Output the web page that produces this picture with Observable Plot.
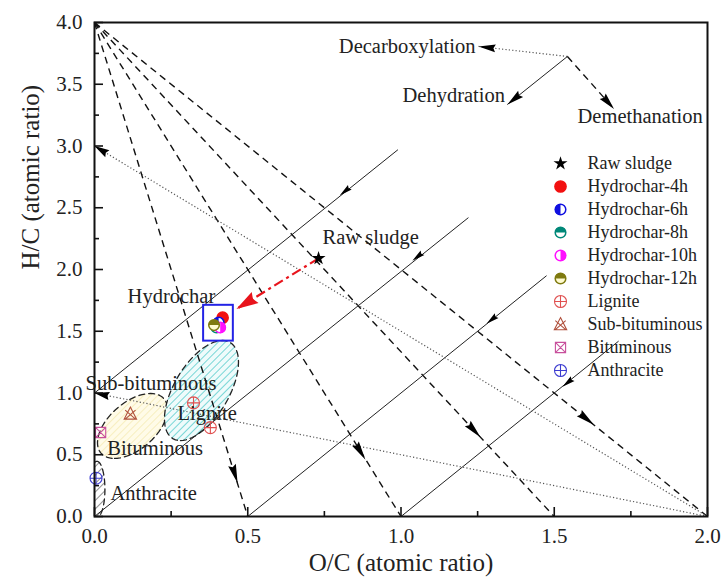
<!DOCTYPE html>
<html><head><meta charset="utf-8">
<script src="https://cdn.jsdelivr.net/npm/d3@7"></script>
<script src="https://cdn.jsdelivr.net/npm/@observablehq/plot@0.6"></script>
<style>
body{margin:0;background:#fff;}
#chart{position:relative;width:724px;height:583px;}
#chart svg{display:block;}
#legend{position:absolute;left:548px;top:147px;}
</style>
</head><body><div id="chart"><div id="legend"></div></div>
<script>
// ---------- data ----------
const xTicks = [0, 0.5, 1.0, 1.5, 2.0];
const xMinorTicks = [0.25, 0.75, 1.25, 1.75];
const yTicks = [0, 0.5, 1.0, 1.5, 2.0, 2.5, 3.0, 3.5, 4.0];
const yMinorTicks = [0.25, 0.75, 1.25, 1.75, 2.25, 2.75, 3.25, 3.75];

const seriesNames = ["Raw sludge","Hydrochar-4h","Hydrochar-6h","Hydrochar-8h","Hydrochar-10h","Hydrochar-12h","Lignite","Sub-bituminous","Bituminous","Anthracite"];
const pointSeries = ["Raw sludge","Hydrochar-4h","Hydrochar-6h","Hydrochar-8h","Hydrochar-10h","Hydrochar-12h","Lignite","Lignite","Sub-bituminous","Bituminous","Anthracite"];
const pointOC = [0.731, 0.418, 0.405, 0.398, 0.410, 0.390, 0.323, 0.378, 0.117, 0.020, 0.005];
const pointHC = [2.09, 1.61, 1.57, 1.53, 1.53, 1.55, 0.92, 0.72, 0.83, 0.68, 0.31];

// demethanation lines (dashed)
const demX1 = [0, 0, 0, 0], demY1 = [4, 4, 4, 4];
const demX2 = [0.5, 1.0, 1.5, 2.0], demY2 = [0, 0, 0, 0];
const demArrowOC = [0.467, 0.884, 1.26, 1.63], demArrowHC = [0.27, 0.46, 0.64, 0.74];
// dehydration lines (solid)
const dehX1 = [0, 0, 0.5, 1.0], dehY1 = [1, 0, 0, 0];
const dehX2 = [0.99, 1.22, 1.475, 1.71], dehY2 = [2.97, 2.42, 1.95, 1.42];
const dehArrowOC = [0.80, 1.037, 1.279, 1.527], dehArrowHC = [2.60, 2.07, 1.56, 1.05];
// decarboxylation lines (dotted)
const decX1 = [2, 2], decY1 = [0, 0];
const decX2 = [0, 0], decY2 = [3, 1];

// key (top right)
const keyVertex = [1.543, 3.725];
const keyNames = ["Decarboxylation", "Dehydration", "Demethanation"];
const keyTipOC = [1.253, 1.347, 1.695], keyTipHC = [3.806, 3.336, 3.30];
const keyLabelOC = [1.243, 1.005, 1.576], keyLabelHC = [3.806, 3.41, 3.24];

// red transformation arrow, box around hydrochars
const redArrowFrom = [0.731, 2.09], redArrowTo = [0.463, 1.68];
const boxOC = [0.356, 0.453], boxHC = [1.42, 1.71];

// region labels
const labelText = ["Raw sludge","Hydrochar","Sub-bituminous","Lignite","Bituminous","Anthracite"];
const labelOC = [0.744, 0.108, -0.029, 0.271, 0.042, 0.052];
const labelHC = [2.26, 1.78, 1.077, 0.834, 0.55, 0.186];

// coal regions (ellipses: centre, conjugate semi-axes in data units)
const regionNames = ["Sub-bituminous", "Lignite", "Anthracite"];
const regionCX = [0.124, 0.349, 0.008], regionCY = [0.733, 1.02, 0.22];
const regionUX = [-0.0587, -0.0685, 0], regionUY = [-0.263, -0.405, 0.227];
const regionVX = [0.098, 0.0995, 0.026], regionVY = [0, 0, 0];

// ---------- layout / styles ----------
const W = 724, H = 583, ML = 94, MR = 17, MT = 22, MB = 67;
const kx = (W - ML - MR) / 2, ky = (H - MT - MB) / 4;
const angle = (dx, dy) => Math.atan2(dx * kx, dy * ky) * 180 / Math.PI;
const FONT = "Liberation Serif";
const regionFill = {"Lignite": "url(#hatchCyan)", "Sub-bituminous": "url(#hatchYellow)", "Anthracite": "url(#hatchBlack)"};

// symbols
const halfDisc = {draw(ctx, size){ const r = Math.sqrt(size/Math.PI); ctx.moveTo(0,-r); ctx.arc(0,0,r,-Math.PI/2,Math.PI/2); ctx.closePath(); }};
const circlePlus = {draw(ctx, size){ const r = Math.sqrt(size/Math.PI); ctx.moveTo(r,0); ctx.arc(0,0,r,0,2*Math.PI); ctx.moveTo(-r,0); ctx.lineTo(r,0); ctx.moveTo(0,-r); ctx.lineTo(0,r); }};
const triX = {draw(ctx, size){ const r = Math.sqrt(size/Math.PI)*1.15; ctx.moveTo(0,-r); ctx.lineTo(r*0.9,r*0.75); ctx.lineTo(-r*0.9,r*0.75); ctx.closePath();
  ctx.moveTo(-r*0.75,-r*0.55); ctx.lineTo(r*0.75,r*0.75); ctx.moveTo(r*0.75,-r*0.55); ctx.lineTo(-r*0.75,r*0.75); }};
const squareX = {draw(ctx, size){ const s = Math.sqrt(size/Math.PI)*0.85; ctx.rect(-s,-s,2*s,2*s); ctx.moveTo(-s,-s); ctx.lineTo(s,s); ctx.moveTo(s,-s); ctx.lineTo(-s,s); }};
const arrowSym = (L, Wd) => ({draw(ctx){ ctx.moveTo(0,0); ctx.lineTo(Wd/2,L); ctx.lineTo(0,L*0.88); ctx.lineTo(-Wd/2,L); ctx.closePath(); }});

const seriesStyle = {
  "Raw sludge":     [{symbol:"star", fill:"#000", stroke:"none", r:4.4}],
  "Hydrochar-4h":   [{symbol:"circle", fill:"#f21010", stroke:"#f21010", r:5.6}],
  "Hydrochar-6h":   [{symbol:"circle", fill:"#fff", stroke:"#1010e0", r:5.3}, {symbol:halfDisc, fill:"#1010e0", stroke:"none", r:5.6, rotate:180}],
  "Hydrochar-8h":   [{symbol:"circle", fill:"#fff", stroke:"#008878", r:5.3}, {symbol:halfDisc, fill:"#008878", stroke:"none", r:5.6, rotate:-90}],
  "Hydrochar-10h":  [{symbol:"circle", fill:"#fff", stroke:"#ff10ff", r:5.3}, {symbol:halfDisc, fill:"#ff10ff", stroke:"none", r:5.6, rotate:0}],
  "Hydrochar-12h":  [{symbol:"circle", fill:"#fffbd0", stroke:"#7f7a10", r:5.3}, {symbol:halfDisc, fill:"#7f7a10", stroke:"none", r:5.6, rotate:-90}],
  "Lignite":        [{symbol:circlePlus, fill:"none", stroke:"#e05050", r:6, strokeWidth:1.1}],
  "Sub-bituminous": [{symbol:triX, fill:"none", stroke:"#b0503c", r:6, strokeWidth:1.1}],
  "Bituminous":     [{symbol:squareX, fill:"none", stroke:"#c8509c", r:6, strokeWidth:1.1}],
  "Anthracite":     [{symbol:circlePlus, fill:"none", stroke:"#3c3cd0", r:6, strokeWidth:1.1}]
};
function markerMarks(rows, pos) {
  const marks = [];
  for (const name of seriesNames) {
    const sub = rows.filter(d => d.name === name);
    for (const st of seriesStyle[name]) marks.push(Plot.dot(sub, {...pos, ...st}));
  }
  return marks;
}

// ---------- tables ----------
const points = pointSeries.map((name, i) => ({name, oc: pointOC[i], hc: pointHC[i]}));
const demLinks = demX1.map((d, i) => ({x1: demX1[i], y1: demY1[i], x2: demX2[i], y2: demY2[i]}));
const dehLinks = dehX1.map((d, i) => ({x1: dehX1[i], y1: dehY1[i], x2: dehX2[i], y2: dehY2[i]}));
const decLinks = decX1.map((d, i) => ({x1: decX1[i], y1: decY1[i], x2: decX2[i], y2: decY2[i]}));
const keyLinks = keyNames.map((n, i) => ({name: n, x1: keyVertex[0], y1: keyVertex[1], x2: keyTipOC[i], y2: keyTipHC[i]}));
const demArrows = demArrowOC.map((x, i) => ({x, y: demArrowHC[i], a: angle(demX2[i]-demX1[i], demY2[i]-demY1[i])}));
const dehArrows = dehArrowOC.map((x, i) => ({x, y: dehArrowHC[i], a: angle(dehX1[i]-dehX2[i], dehY1[i]-dehY2[i])}));
const decArrows = decX2.map((x, i) => ({x, y: decY2[i], a: angle(decX2[i]-decX1[i], decY2[i]-decY1[i])}));
const keyArrows = keyLinks.map(d => ({x: d.x2, y: d.y2, a: angle(d.x2-d.x1, d.y2-d.y1)}));
const regions = regionNames.map((name, i) => {
  const pts = [];
  for (let k = 0; k <= 72; k++) {
    const t = k / 72 * 2 * Math.PI;
    pts.push({name, x: regionCX[i] + regionUX[i]*Math.cos(t) + regionVX[i]*Math.sin(t),
                    y: regionCY[i] + regionUY[i]*Math.cos(t) + regionVY[i]*Math.sin(t)});
  }
  return {name, pts};
});
const keyLabels = keyNames.map((t, i) => ({t, x: keyLabelOC[i], y: keyLabelHC[i]}));

const lineStyle = {
  dashed: {stroke:"#111", strokeWidth:1.4, strokeDasharray:"7,5"},
  solid: {stroke:"#222", strokeWidth:1},
  dotted: {stroke:"#555", strokeWidth:1.2, strokeDasharray:"1.2,2.2"}
};
const txt = {fontFamily: FONT, fill: "#222"};

const plot = Plot.plot({
  width: W, height: H, marginLeft: ML, marginRight: MR, marginTop: MT, marginBottom: MB,
  x: {domain: [0, 2], label: null},
  y: {domain: [0, 4], label: null},
  style: {fontFamily: FONT, fontSize: "21px", color: "#111", background: "#fff"},
  marks: [
    ...regions.map(r => Plot.line(r.pts, {x: "x", y: "y", fill: regionFill[r.name], stroke: "#222", strokeWidth: 1.3, strokeDasharray: "6,4", clip: true})),
    Plot.link(demLinks, {x1:"x1", y1:"y1", x2:"x2", y2:"y2", ...lineStyle.dashed}),
    Plot.link(dehLinks, {x1:"x1", y1:"y1", x2:"x2", y2:"y2", ...lineStyle.solid}),
    Plot.link(decLinks, {x1:"x1", y1:"y1", x2:"x2", y2:"y2", ...lineStyle.dotted}),
    Plot.link(keyLinks.filter(d => d.name === "Decarboxylation"), {x1:"x1", y1:"y1", x2:"x2", y2:"y2", ...lineStyle.dotted}),
    Plot.link(keyLinks.filter(d => d.name === "Dehydration"), {x1:"x1", y1:"y1", x2:"x2", y2:"y2", ...lineStyle.solid}),
    Plot.link(keyLinks.filter(d => d.name === "Demethanation"), {x1:"x1", y1:"y1", x2:"x2", y2:"y2", ...lineStyle.dashed}),
    Plot.dot(demArrows, {x:"x", y:"y", rotate:"a", symbol: arrowSym(19, 8), fill:"#000", stroke:"none"}),
    Plot.dot(dehArrows, {x:"x", y:"y", rotate:"a", symbol: arrowSym(13, 6), fill:"#000", stroke:"none"}),
    Plot.dot(decArrows, {x:"x", y:"y", rotate:"a", symbol: arrowSym(15, 8), fill:"#000", stroke:"none"}),
    Plot.dot(keyArrows, {x:"x", y:"y", rotate:"a", symbol: arrowSym(17, 8), fill:"#000", stroke:"none"}),
    Plot.link([{x1: redArrowFrom[0], y1: redArrowFrom[1], x2: redArrowTo[0], y2: redArrowTo[1]}],
      {x1:"x1", y1:"y1", x2:"x2", y2:"y2", stroke:"#e8141c", strokeWidth:2.2, strokeDasharray:"10,4,3,4"}),
    Plot.dot([{x: redArrowTo[0], y: redArrowTo[1], a: angle(redArrowTo[0]-redArrowFrom[0], redArrowTo[1]-redArrowFrom[1])}],
      {x:"x", y:"y", rotate:"a", symbol: arrowSym(22, 13), fill:"#e8141c", stroke:"none"}),
    Plot.rect([{x1: boxOC[0], x2: boxOC[1], y1: boxHC[0], y2: boxHC[1]}], {x1:"x1", x2:"x2", y1:"y1", y2:"y2", fill:"none", stroke:"#2323e6", strokeWidth:2}),
    ...markerMarks(points, {x: "oc", y: "hc"}),
    Plot.text(labelText.map((t, i) => ({t, x: labelOC[i], y: labelHC[i]})), {x:"x", y:"y", text:"t", textAnchor:"start", fontSize:20.5, ...txt}),
    Plot.text(keyLabels.slice(0, 1), {x:"x", y:"y", text:"t", textAnchor:"end", fontSize:20.5, ...txt}),
    Plot.text(keyLabels.slice(1), {x:"x", y:"y", text:"t", textAnchor:"start", fontSize:20.5, ...txt}),
    Plot.axisX({ticks: xTicks, tickSize: -9, tickFormat: () => "", strokeWidth: 1.6, label: null}),
    Plot.axisX({ticks: xMinorTicks, tickSize: -5, tickFormat: () => "", strokeWidth: 1.6, label: null}),
    Plot.axisX({ticks: xTicks, tickSize: 0, tickPadding: 12, tickFormat: d3.format(".1f"), fontSize: 21, ...txt, label: null}),
    Plot.axisY({ticks: yTicks, tickSize: -9, tickFormat: () => "", strokeWidth: 1.6, label: null}),
    Plot.axisY({ticks: yMinorTicks, tickSize: -5, tickFormat: () => "", strokeWidth: 1.6, label: null}),
    Plot.axisY({ticks: yTicks, tickSize: 0, tickPadding: 12, tickFormat: d3.format(".1f"), fontSize: 21, ...txt, label: null}),
    Plot.text(["O/C (atomic ratio)"], {frameAnchor: "bottom", dy: 54, text: d => d, fontSize: 25, ...txt}),
    Plot.text(["H/C (atomic ratio)"], {frameAnchor: "left", dx: -64, rotate: -90, text: d => d, fontSize: 25, ...txt}),
    Plot.frame({stroke: "#111", strokeWidth: 2})
  ]
});

// hatch patterns
const defs = d3.select(plot).insert("defs", ":first-child");
function hatch(id, bg, fg, gap, sw) {
  const p = defs.append("pattern").attr("id", id).attr("patternUnits", "userSpaceOnUse")
    .attr("width", gap).attr("height", gap).attr("patternTransform", "rotate(45)");
  p.append("rect").attr("width", gap).attr("height", gap).attr("fill", bg);
  p.append("line").attr("x1", 0).attr("y1", 0).attr("x2", 0).attr("y2", gap).attr("stroke", fg).attr("stroke-width", sw);
}
hatch("hatchCyan", "#effbfb", "#45c6c6", 5, 1.4);
hatch("hatchYellow", "#fffbe8", "#f3e6a6", 5, 1.2);
hatch("hatchBlack", "#ffffff", "#333333", 6, 1.1);
document.getElementById("chart").prepend(plot);

// legend
const legend = Plot.plot({
  width: 175, height: 240, marginTop: 12, marginBottom: 14, marginLeft: 0, marginRight: 0,
  y: {type: "point", domain: seriesNames, padding: 0, axis: null},
  style: {fontFamily: FONT, fontSize: "18px", background: "transparent"},
  marks: [
    ...markerMarks(seriesNames.map(name => ({name})), {y: "name", frameAnchor: "left", dx: 12}),
    Plot.text(seriesNames, {y: d => d, text: d => d, frameAnchor: "left", dx: 39, textAnchor: "start", fontSize: 18, ...txt})
  ]
});
document.getElementById("legend").appendChild(legend);
</script>
</body></html>
